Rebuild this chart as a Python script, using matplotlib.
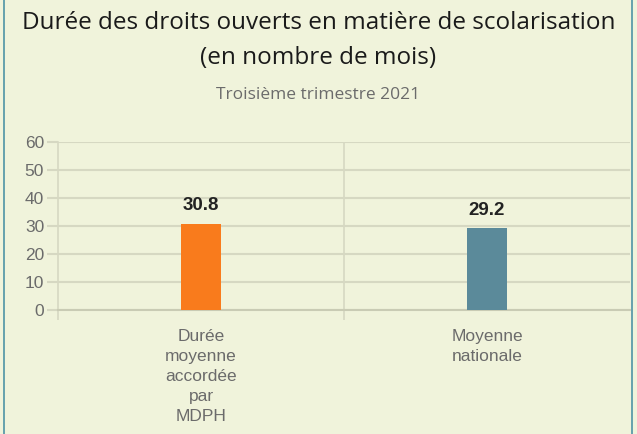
import numpy as np
import matplotlib.pyplot as plt
from matplotlib.lines import Line2D

# donnees
categories = ["Durée\nmoyenne\naccordée\npar\nMDPH", "Moyenne\nnationale"]
valeurs = [30.8, 29.2]
couleurs = ["#F97B1C", "#5B8A9A"]
yticks = [0, 10, 20, 30, 40, 50, 60]

fond = "#F0F3DB"
grille = "#D6D8C2"

W, H = 637, 434
fig = plt.figure(figsize=(W / 100, H / 100), dpi=100, facecolor=fond)
ax = fig.add_axes([58 / W, 1 - 310 / H, (630 - 58) / W, (310 - 142) / H])
ax.set_facecolor(fond)

x = np.arange(len(valeurs))
ax.bar(x, valeurs, width=0.143, color=couleurs, zorder=3)

for xi, v in zip(x, valeurs):
    ax.annotate(f"{v}", (xi, v), xytext=(0, 7), textcoords="offset points",
                ha="center", va="bottom", fontsize=13.5, fontweight="bold",
                color="#222222", family="Liberation Sans")

ax.set_xlim(-0.5, 1.5)
ax.set_ylim(0, 60)
ax.set_yticks(yticks)
ax.set_yticklabels([str(t) for t in yticks], family="Liberation Sans",
                   fontsize=12.5, color="#6b6b6b")
ax.tick_params(axis="y", length=8, color=grille, width=1.5, pad=2)
ax.grid(axis="y", color=grille, linewidth=1.5, zorder=0)

ax.set_xticks(x)
ax.set_xticklabels(categories, family="Liberation Sans", fontsize=12.5,
                   color="#6b6b6b", linespacing=1.4)
ax.tick_params(axis="x", which="major", length=0, pad=14)
ax.set_xticks([-0.5, 0.5], minor=True)
ax.tick_params(axis="x", which="minor", length=7, color=grille, width=1.2)
ax.axvline(0.5, color=grille, linewidth=1.2, zorder=0)

for s in ["top", "right"]:
    ax.spines[s].set_visible(False)
ax.spines["left"].set_color(grille)
ax.spines["left"].set_linewidth(1.2)
ax.spines["bottom"].set_color("#C9CBB4")
ax.spines["bottom"].set_linewidth(1.5)

# titres
fig.text(0.5, 1 - 23 / H, "Durée des droits ouverts en matière de scolarisation",
         ha="center", va="center", fontsize=17.5, family="Open Sans", color="#1a1a1a")
fig.text(0.5, 1 - 58 / H, "(en nombre de mois)", ha="center", va="center",
         fontsize=17.5, family="Open Sans", color="#1a1a1a")
fig.text(0.5, 1 - 95 / H, "Troisième trimestre 2021", ha="center", va="center",
         fontsize=12.5, family="Open Sans", color="#6b6b6b")

# bordure
fig.add_artist(Line2D([3.5 / W, 3.5 / W], [0, 1], color="#4F93A6", linewidth=1.2))
fig.add_artist(Line2D([631.5 / W, 631.5 / W], [0, 1], color="#4F93A6", linewidth=1.2))

fig.savefig("out.png", dpi=100, facecolor=fond)
